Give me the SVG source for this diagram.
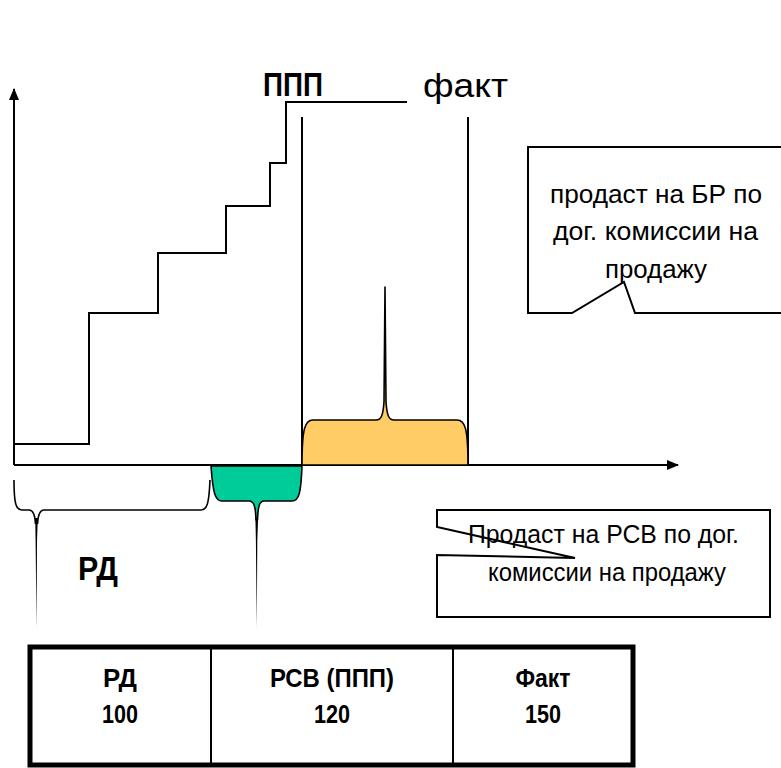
<svg xmlns="http://www.w3.org/2000/svg" width="781" height="768" viewBox="0 0 781 768">
<style>
.ln{fill:none;stroke:#000;stroke-width:2}
.box{fill:#fff;stroke:#000;stroke-width:2}
.t{font-family:"Liberation Sans",Arial,sans-serif;fill:#000}
.b{font-weight:bold}
.tail{fill:#000;stroke:none}
</style>
<defs>
<marker id="arr" markerWidth="12" markerHeight="10" refX="11" refY="5" orient="auto" markerUnits="userSpaceOnUse">
<path d="M0,0 L12,5 L0,10 Z" fill="#000"/>
</marker>
</defs>
<rect width="781" height="768" fill="#fff"/>

<g id="connectors">
<line class="ln" x1="14" y1="465" x2="14" y2="89" marker-end="url(#arr)"/>
<line class="ln" x1="14" y1="465" x2="678" y2="465" marker-end="url(#arr)"/>
<line class="ln" x1="302" y1="117" x2="302" y2="465"/>
<line class="ln" x1="468" y1="117" x2="468" y2="465"/>
<polyline class="ln" points="14,444 89,444 89,313 158,313 158,253 226,253 226,206 270,206 270,163 286,163 286,102 407,102"/>
</g>

<g id="brace-fact">
<path d="M302,465 C302,428 305,420 313,420 L376,420 C381,420 383,416 384,402 L385,287 L386,402 C387,416 389,420 394,420 L457,420 C465,420 468,428 468,465 Z" fill="#FFCC66" stroke="#000" stroke-width="1.6" stroke-linejoin="round"/>
</g>

<g id="brace-rsv">
<path d="M211,466 C213,493 215,501 222,501 L249,501 C254,501 255.5,506 256,520 L257.5,520 C258,506 259.5,501 264,501 L292,501 C299,501 301,493 302,466 Z" fill="#00CC99" stroke="#000" stroke-width="1.6" stroke-linejoin="round"/>
<path class="tail" d="M255.4,518 L255.9,541 L256.8,628 L257.3,541 L258.1,518 Z"/>
</g>

<g id="brace-rd">
<path d="M14,480 C14,504 16,510 22,510 L29,510 C33,510 35,514 35.5,524 M37.5,524 C38,514 40,510 44,510 L201,510 C207,510 209,504 210,480" fill="none" stroke="#000" stroke-width="1.6"/>
<path class="tail" d="M35.2,518 L35.6,541 L36.5,628 L37,541 L37.8,518 Z"/>
</g>

<g id="label-ppp">
<text class="t b" x="263" y="96" font-size="33" textLength="60" lengthAdjust="spacingAndGlyphs">ППП</text>
</g>
<g id="label-fact">
<text class="t" x="423" y="97" font-size="33" textLength="85" lengthAdjust="spacingAndGlyphs">факт</text>
</g>
<g id="label-rd">
<text class="t b" x="78" y="580" font-size="34" textLength="40" lengthAdjust="spacingAndGlyphs">РД</text>
</g>

<g id="callout-br">
<path class="box" d="M528,147 L790,147 L790,313 L635,313 L624,282 L572,313 L528,313 Z"/>
<text class="t" x="550" y="203" font-size="26" textLength="212" lengthAdjust="spacingAndGlyphs">продаст на БР по</text>
<text class="t" x="553" y="240" font-size="26" textLength="205" lengthAdjust="spacingAndGlyphs">дог. комиссии на</text>
<text class="t" x="605" y="278" font-size="26" textLength="102" lengthAdjust="spacingAndGlyphs">продажу</text>
</g>

<g id="callout-rsv">
<path class="box" d="M437,510 L770,510 L770,617 L437,617 L437,555 L575,558 L437,527 Z"/>
<text class="t" x="468" y="543" font-size="26" textLength="271" lengthAdjust="spacingAndGlyphs">Продаст  на РСВ по дог.</text>
<text class="t" x="488" y="581" font-size="26" textLength="238" lengthAdjust="spacingAndGlyphs">комиссии на продажу</text>
</g>

<g id="table">
<rect x="30" y="647" width="603" height="118" fill="#fff" stroke="#000" stroke-width="5"/>
<line x1="211" y1="647" x2="211" y2="765" stroke="#000" stroke-width="2"/>
<line x1="453" y1="647" x2="453" y2="765" stroke="#000" stroke-width="2"/>
<g text-anchor="middle">
<text class="t b" x="120" y="687" font-size="25" textLength="34" lengthAdjust="spacingAndGlyphs">РД</text>
<text class="t b" x="120" y="723" font-size="25" textLength="36" lengthAdjust="spacingAndGlyphs">100</text>
<text class="t b" x="332" y="687" font-size="25" textLength="124" lengthAdjust="spacingAndGlyphs">РСВ (ППП)</text>
<text class="t b" x="332" y="723" font-size="25" textLength="36" lengthAdjust="spacingAndGlyphs">120</text>
<text class="t b" x="543" y="687" font-size="25" textLength="55" lengthAdjust="spacingAndGlyphs">Факт</text>
<text class="t b" x="543" y="723" font-size="25" textLength="36" lengthAdjust="spacingAndGlyphs">150</text>
</g>
</g>
</svg>
